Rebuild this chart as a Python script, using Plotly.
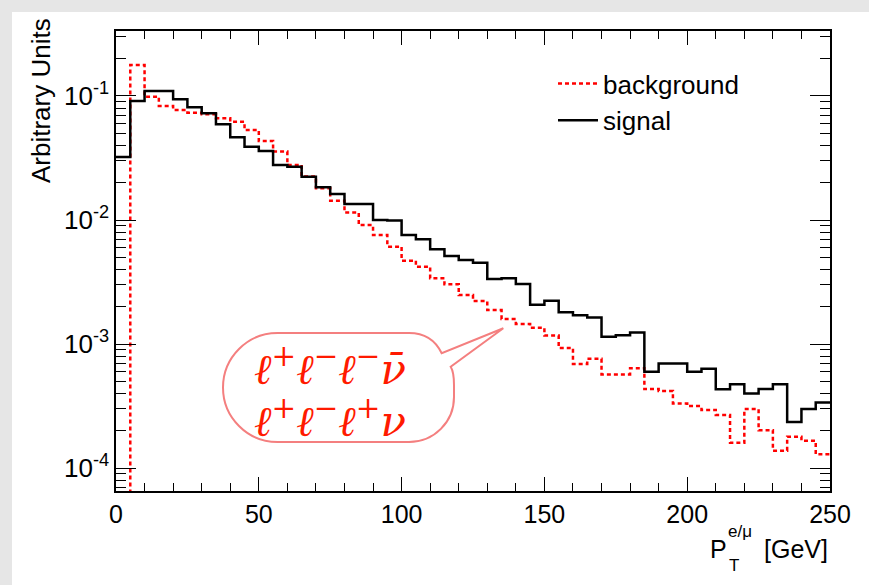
import numpy as np
import plotly.graph_objects as go

# ---------------- data ----------------
bin_edges = list(range(0, 255, 5))          # GeV, 50 bins of 5 GeV

signal = [0.0322, 0.0912, 0.1097, 0.1097, 0.094, 0.081, 0.0725, 0.0591, 0.0465, 0.039,
          0.036, 0.0278, 0.0269, 0.0223, 0.0184, 0.0162, 0.01345, 0.01345, 0.0100, 0.0099,
          0.00757, 0.00699, 0.0058, 0.00513, 0.00476, 0.00453, 0.00334, 0.00339, 0.00305, 0.00207,
          0.00223, 0.0018, 0.00171, 0.00164, 0.001146, 0.001175, 0.00124, 0.000599, 0.000698, 0.000698,
          0.000599, 0.000633, 0.000431, 0.000473, 0.0004, 0.000433, 0.000473, 0.000235, 0.000299, 0.000337]

background = [0.0, 0.178, 0.0988, 0.083, 0.077, 0.0733, 0.0711, 0.066, 0.0621, 0.0532,
              0.0434, 0.0356, 0.0278, 0.0224, 0.018, 0.0143, 0.0115, 0.0091, 0.00757, 0.0061,
              0.0047, 0.0042, 0.00339, 0.00303, 0.00248, 0.00222, 0.00188, 0.00159, 0.00145, 0.00135,
              0.00117, 0.00093, 0.00069, 0.00076, 0.000569, 0.000569, 0.000637, 0.000433, 0.000418, 0.000332,
              0.000316, 0.000294, 0.000268, 0.00016, 0.000299, 0.000202, 0.000138, 0.000179, 0.000166, 0.000129]

x_tick_vals = [0, 50, 100, 150, 200, 250]
x_tick_text = ["0", "50", "100", "150", "200", "250"]
y_tick_vals = [1e-4, 1e-3, 1e-2, 1e-1]
y_tick_text = ["10<sup>-4</sup>", "10<sup>-3</sup>", "10<sup>-2</sup>", "10<sup>-1</sup>"]

# ---------------- layout geometry ----------------
W, H = 869, 585
ML, MR, MT, MB = 116, 39, 31, 94
PW, PH = W - ML - MR, H - MT - MB


def px(xp):
    return (xp - ML) / PW


def py(yp):
    return (H - MB - yp) / PH


def step_y(vals):
    v = np.array(vals, dtype=float)
    v = np.where(v > 0, v, 1e-9)
    return list(v) + [v[-1]]


FONT = "Liberation Sans, Arial, Helvetica, sans-serif"

fig = go.Figure()
fig.add_trace(go.Scatter(
    x=bin_edges, y=step_y(background), mode="lines", line_shape="hv",
    line=dict(color="#ff0000", width=2.5, dash="4px,3px"), name="background"))
fig.add_trace(go.Scatter(
    x=bin_edges, y=step_y(signal), mode="lines", line_shape="hv",
    line=dict(color="#000000", width=2.5), name="signal"))

minor_y = [k * 10.0 ** n for n in range(-5, 0) for k in range(2, 10)]

fig.update_xaxes(
    range=[0, 250], tickvals=x_tick_vals, ticktext=x_tick_text,
    ticks="inside", ticklen=14, tickwidth=1.3, tickcolor="black",
    minor=dict(ticks="inside", ticklen=8, dtick=10, tickwidth=1.3, tickcolor="black"),
    showline=True, linecolor="black", linewidth=1.5, mirror="allticks",
    showgrid=False, zeroline=False,
    tickfont=dict(family=FONT, size=25, color="black"))
fig.update_yaxes(
    type="log", range=[-4.185, -0.476], tickvals=y_tick_vals, ticktext=y_tick_text,
    ticks="inside", ticklen=20, tickwidth=1.3, tickcolor="black",
    minor=dict(ticks="inside", ticklen=10, tickvals=minor_y, tickwidth=1.3, tickcolor="black"),
    showline=True, linecolor="black", linewidth=1.5, mirror="allticks",
    showgrid=False, zeroline=False,
    tickfont=dict(family=FONT, size=26, color="black"))

# speech bubble path (pixel coords -> paper)
def P(x, y):
    return f"{px(x):.5f},{py(y):.5f}"

L, R, T, B = 223, 454, 333, 442
rl = (B - T) / 2
cx_l = L + rl
path = (
    f"M {P(cx_l, T)} L {P(409, T)} Q {P(432, T)} {P(441.7, 353.3)} "
    f"L {P(503.3, 328.3)} L {P(450.7, 366.7)} Q {P(454, 372)} {P(R, 385)} "
    f"L {P(R, 397)} C {P(R, 422)} {P(434, B)} {P(409, B)} "
    f"L {P(cx_l, B)} C {P(cx_l - 30, B)} {P(L, B - 24.5)} {P(L, (T + B) / 2)} "
    f"C {P(L, T + 24.5)} {P(cx_l - 30, T)} {P(cx_l, T)} Z"
)

shapes = [
    dict(type="rect", xref="paper", yref="paper", x0=px(12), x1=px(W + 5), y0=py(12), y1=py(H + 5),
         fillcolor="white", line=dict(width=0), layer="below"),
    dict(type="path", xref="paper", yref="paper", path=path, fillcolor="white",
         line=dict(color="#f47f7f", width=2), layer="above"),
]

TXT_RED = "#ff1a00"
SERIF = "DejaVu Serif, Liberation Serif, serif"
annotations = [
    dict(xref="paper", yref="paper", x=px(330), y=py(366), xanchor="center", yanchor="middle",
         text="<i>ℓ<sup>+</sup>ℓ<sup>−</sup>ℓ<sup>−</sup>ν\u0304</i>", showarrow=False,
         font=dict(family=SERIF, size=42, color=TXT_RED)),
    dict(xref="paper", yref="paper", x=px(330), y=py(418), xanchor="center", yanchor="middle",
         text="<i>ℓ<sup>+</sup>ℓ<sup>−</sup>ℓ<sup>+</sup>ν</i>", showarrow=False,
         font=dict(family=SERIF, size=42, color=TXT_RED)),
    # y title
    dict(xref="paper", yref="paper", x=px(41), y=py(101), xanchor="center", yanchor="middle",
         text="Arbitrary Units", textangle=-90, showarrow=False,
         font=dict(family=FONT, size=26, color="black")),
    # x title pieces
    dict(xref="paper", yref="paper", x=px(830), y=py(549), xanchor="right", yanchor="middle",
         text="[GeV]", showarrow=False, font=dict(family=FONT, size=25, color="black")),
    dict(xref="paper", yref="paper", x=px(729), y=py(549), xanchor="right", yanchor="middle",
         text="P", showarrow=False, font=dict(family=FONT, size=25, color="black")),
    dict(xref="paper", yref="paper", x=px(726), y=py(531), xanchor="left", yanchor="middle",
         text="e/μ", showarrow=False, font=dict(family=FONT, size=17, color="black")),
    dict(xref="paper", yref="paper", x=px(727), y=py(565), xanchor="left", yanchor="middle",
         text="T", showarrow=False, font=dict(family=FONT, size=17, color="black")),
]

fig.update_layout(
    width=W, height=H, margin=dict(l=ML, r=MR, t=MT, b=MB, pad=0),
    paper_bgcolor="#e6e6e6", plot_bgcolor="white",
    shapes=shapes, annotations=annotations,
    showlegend=True,
    legend=dict(x=px(553), y=py(60), xanchor="left", yanchor="top",
                bgcolor="rgba(0,0,0,0)", font=dict(family=FONT, size=26, color="black"),
                itemwidth=40, tracegroupgap=0),
)

fig.write_html("out.html")
